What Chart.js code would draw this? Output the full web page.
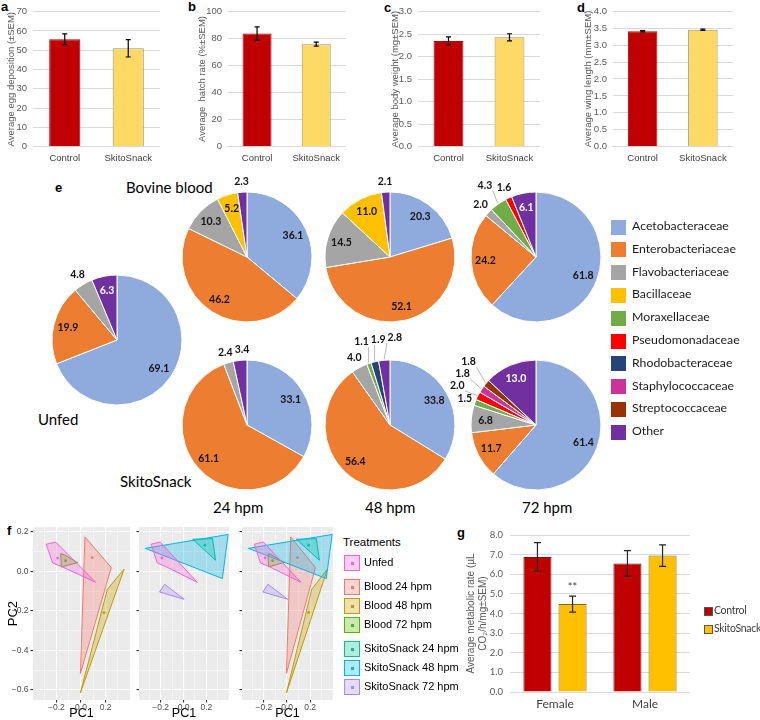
<!DOCTYPE html>
<html>
<head>
<meta charset="utf-8">
<script src="https://cdn.jsdelivr.net/npm/chart.js@4.4.1/dist/chart.umd.min.js"></script>
<style>
  body { margin: 0; width: 760px; height: 720px; position: relative; overflow: hidden; background: #fff; font-family: "Liberation Sans", Arial, sans-serif; }
  canvas { position: absolute; }
  .t { position: absolute; white-space: nowrap; line-height: 1; color: #000; }
  .p { font-weight: bold; font-size: 13px; }
  .cal { font-family: Lato, "Open Sans", sans-serif; }
</style>
</head>
<body>
<div class="t p" style="left:1px;top:0px">a</div>
<div class="t p" style="left:188px;top:0px">b</div>
<div class="t p" style="left:384px;top:1px">c</div>
<div class="t p" style="left:577px;top:1px">d</div>
<div class="t p" style="left:55px;top:181px">e</div>
<div class="t p" style="left:7px;top:524px">f</div>
<div class="t p" style="left:457px;top:526px">g</div>

<div class="t cal" style="left:126px;top:180px;font-size:15px">Bovine blood</div>
<div class="t cal" style="left:38px;top:412px;font-size:15px">Unfed</div>
<div class="t cal" style="left:120px;top:474px;font-size:15px">SkitoSnack</div>
<div class="t cal" style="left:213px;top:500px;font-size:15px">24 hpm</div>
<div class="t cal" style="left:365px;top:500px;font-size:15px">48 hpm</div>
<div class="t cal" style="left:522px;top:500px;font-size:15px">72 hpm</div>

<div class="t" style="left:40px;top:681px;font-size:11px">Blood</div>
<div class="t" style="left:143px;top:681px;font-size:11px">SkitoSnack</div>
<div class="t" style="left:246px;top:681px;font-size:11px">Merge</div>
<div class="t" style="left:343px;top:537px;font-size:11.5px">Treatments</div>

<script>
// ----- a-d: adult fitness bars -----
const groups = ["Control", "SkitoSnack"];
const eggMean = [55.7, 51.0];
const eggSem = [2.8, 4.5];
const hatchMean = [83.5, 75.7];
const hatchSem = [5.0, 1.5];
const weightMean = [2.35, 2.43];
const weightSem = [0.09, 0.08];
const wingMean = [3.41, 3.45];
const wingSem = [0.02, 0.02];

// ----- e: family composition (%) -----
const families = ["Acetobacteraceae", "Enterobacteriaceae", "Flavobacteriaceae", "Bacillaceae", "Moraxellaceae",
  "Pseudomonadaceae", "Rhodobacteraceae", "Staphylococcaceae", "Streptococcaceae", "Other"];
const familyColors = ["#8FAADC", "#ED7D31", "#A5A5A5", "#FFC000", "#70AD47", "#FF0000", "#264478", "#CC3399", "#993300", "#7030A0"];
const pieUnfed   = [69.1, 19.9, 4.8, 0, 0, 0, 0, 0, 0, 6.3];
const pieBlood24 = [36.1, 46.2, 10.3, 5.2, 0, 0, 0, 0, 0, 2.3];
const pieBlood48 = [20.3, 52.1, 14.5, 11.0, 0, 0, 0, 0, 0, 2.1];
const pieBlood72 = [61.8, 24.2, 2.0, 0, 4.3, 1.6, 0, 0, 0, 6.1];
const pieSkito24 = [33.1, 61.1, 2.4, 0, 0, 0, 0, 0, 0, 3.4];
const pieSkito48 = [33.8, 56.4, 4.0, 0, 1.1, 0, 1.9, 0, 0, 2.8];
const pieSkito72 = [61.4, 11.7, 6.8, 0, 1.5, 2.0, 0, 1.8, 1.8, 13.0];

// ----- f: PCA hulls (PC1, PC2) -----
const treatments = ["Unfed", "Blood 24 hpm", "Blood 48 hpm", "Blood 72 hpm", "SkitoSnack 24 hpm", "SkitoSnack 48 hpm", "SkitoSnack 72 hpm"];
const treatmentColors = ["#FB61D7", "#F8766D", "#C49A00", "#53B400", "#00C094", "#00B6EB", "#A58AFF"];
const hullUnfed   = [[-0.283, 0.138], [-0.205, 0.149], [0.120, -0.055], [-0.150, 0.023], [-0.230, 0.043]];
const hullBlood24 = [[0.032, 0.175], [0.246, 0.020], [-0.005, -0.517]];
const hullBlood48 = [[0.350, 0.012], [0.214, -0.090], [-0.005, -0.615]];
const hullBlood72 = [[-0.165, 0.090], [-0.133, 0.084], [-0.027, 0.045], [-0.160, 0.023]];
const hullSkito24 = [[0.080, 0.163], [0.254, 0.166], [0.280, 0.057]];
const hullSkito48 = [[-0.335, 0.117], [0.390, 0.187], [0.340, -0.036]];
const hullSkito72 = [[-0.210, -0.104], [-0.165, -0.065], [0.005, -0.141]];
const centroidX = [-0.190, 0.091, 0.187, -0.125, 0.187, null, null];
const centroidY = [0.068, 0.070, -0.208, 0.055, 0.133, null, null];

// ----- g: metabolic rate -----
const sexes = ["Female", "Male"];
const metabControl = [6.88, 6.55];
const metabControlSem = [0.73, 0.65];
const metabSkito = [4.48, 6.95];
const metabSkitoSem = [0.41, 0.55];
const metabSkitoSig = ["**", ""];

Chart.defaults.font.family = '"Liberation Sans", Arial, sans-serif';
Chart.defaults.animation = false;
Chart.defaults.events = [];
Chart.defaults.plugins.legend.display = false;
Chart.defaults.plugins.tooltip.enabled = false;

function makeCanvas(left, top, w, h) {
  const c = document.createElement("canvas");
  c.width = w; c.height = h;
  c.style.left = left + "px"; c.style.top = top + "px";
  c.style.width = w + "px"; c.style.height = h + "px";
  document.body.appendChild(c);
  return c;
}

// error bars + significance marks, drawn through the y scale
const errorBars = {
  id: "errorBars",
  afterDatasetsDraw(chart, args, opts) {
    const ctx = chart.ctx, y = chart.scales.y;
    chart.data.datasets.forEach((ds, i) => {
      if (!ds.errors) return;
      chart.getDatasetMeta(i).data.forEach((bar, j) => {
        const v = ds.data[j], e = ds.errors[j];
        const top = y.getPixelForValue(v + e), bot = y.getPixelForValue(v - e);
        const cap = opts.cap || 3;
        ctx.save();
        ctx.strokeStyle = opts.color || "#000";
        ctx.lineWidth = 1.2;
        ctx.beginPath();
        ctx.moveTo(bar.x, top); ctx.lineTo(bar.x, bot);
        ctx.moveTo(bar.x - cap, top); ctx.lineTo(bar.x + cap, top);
        ctx.moveTo(bar.x - cap, bot); ctx.lineTo(bar.x + cap, bot);
        ctx.stroke();
        if (ds.marks && ds.marks[j]) {
          ctx.fillStyle = "#404040";
          ctx.font = "11px Lato";
          ctx.textAlign = "center";
          ctx.textBaseline = "middle";
          ctx.fillText(ds.marks[j], bar.x, top - 9);
        }
        ctx.restore();
      });
    });
  }
};

// ----- a-d -----
function barPanel(left, width, axisW, titlePad, tickPad, title, means, sems, max, step, dec) {
  new Chart(makeCanvas(left, 0, width, 168), {
    type: "bar",
    data: {
      labels: groups,
      datasets: [{
        data: means, errors: sems,
        backgroundColor: ["#C00000", "#FFD966"],
        borderColor: ["#B00000", "#A39361"],
        borderWidth: 1,
        barPercentage: 0.49, categoryPercentage: 1
      }]
    },
    options: {
      responsive: false,
      layout: { padding: { top: 6, right: 0, bottom: 0, left: 0 } },
      plugins: { errorBars: { cap: 2.5 } },
      scales: {
        x: {
          grid: { display: false, drawTicks: false },
          border: { color: "#d9d9d9" },
          ticks: { color: "#404040", font: { size: 9.5 }, padding: 6 },
          afterFit: s => { s.height = 21.3; }
        },
        y: {
          min: 0, max: max,
          ticks: { stepSize: step, callback: v => v.toFixed(dec), color: "#595959", font: { size: 9.5 }, padding: tickPad },
          grid: { color: "#d9d9d9", drawTicks: false },
          border: { display: false },
          title: { display: true, text: title, color: "#595959", font: { size: 9.5 }, padding: { top: titlePad, bottom: 0 } },
          afterFit: s => { s.width = axisW; }
        }
      }
    },
    plugins: [errorBars]
  });
}

barPanel(0, 160, 33, 5.3, 6, "Average egg deposition (\u00B1SEM)", eggMean, eggSem, 70, 10, 0);
barPanel(190, 156, 37.5, 6.3, 5.5, "Average  hatch rate (%\u00B1SEM)", hatchMean, hatchSem, 100, 10, 0);
barPanel(383, 157, 35, 6.3, 6, "Average body weight (mg\u00B1SEM)", weightMean, weightSem, 3, 0.5, 1);
barPanel(576, 157, 36.5, 6.3, 5.5, "Average wing length (mm\u00B1SEM)", wingMean, wingSem, 4, 0.5, 1);

// ----- e: pies -----
const pieLabels = {
  id: "pieLabels",
  afterDatasetsDraw(chart) {
    const ctx = chart.ctx;
    const values = chart.data.datasets[0].data;
    const placed = [];
    ctx.save();
    ctx.font = "bold 10.5px Lato";
    ctx.textAlign = "center";
    ctx.textBaseline = "middle";
    chart.getDatasetMeta(0).data.forEach((arc, i) => {
      const v = values[i];
      if (!v) return;
      const { x, y, startAngle, endAngle, outerRadius: r } =
        arc.getProps(["x", "y", "startAngle", "endAngle", "outerRadius"], true);
      const a = (startAngle + endAngle) / 2;
      const cos = Math.cos(a), sin = Math.sin(a);
      const txt = v.toFixed(1);
      if (v >= 5) {
        ctx.fillStyle = i === families.length - 1 ? "#fff" : "#141414";
        ctx.fillText(txt, x + cos * r * 0.78, y + sin * r * 0.78);
        return;
      }
      const w = ctx.measureText(txt).width + 1, h = 11;
      const clash = p => placed.find(q => Math.abs(q.x - p.x) < (w + q.w) / 2 && Math.abs(q.y - p.y) < h);
      const ideal = { x: x + cos * (r + 11), y: y + sin * (r + 11), w };
      let p = ideal;
      let q = clash(p);
      if (q) {
        const need = (w + q.w) / 2 + 1 - Math.abs(q.x - p.x);
        if (sin < -0.9 && need < 4.5) p = { ...p, x: p.x + need };
        else p = { x: x + cos * (r + 23), y: y + sin * (r + 23), w };
      }
      let n = 0;
      while ((q = clash(p)) && n++ < 8) {
        if (cos < -0.7) p = { ...p, y: q.y - h - 1 };
        else if (cos > 0.7) p = { ...p, y: q.y + h + 1 };
        else if (sin < 0) p = { ...p, x: q.x + (w + q.w) / 2 + 1 };
        else p = { ...p, x: q.x - (w + q.w) / 2 - 1 };
      }
      placed.push(p);
      if (Math.hypot(p.x - ideal.x, p.y - ideal.y) > 6) {
        const ex = x + cos * (r + 1), ey = y + sin * (r + 1);
        const tx = Math.min(Math.max(ex, p.x - w / 2), p.x + w / 2);
        const ty = Math.min(Math.max(ey, p.y - h / 2), p.y + h / 2);
        ctx.strokeStyle = "#a6a6a6";
        ctx.lineWidth = 0.8;
        ctx.beginPath(); ctx.moveTo(ex, ey); ctx.lineTo(tx, ty); ctx.stroke();
      }
      ctx.fillStyle = "#141414";
      ctx.fillText(txt, p.x, p.y);
    });
    ctx.restore();
  }
};

function pie(cx, cy, values) {
  new Chart(makeCanvas(cx - 100, cy - 100, 200, 200), {
    type: "pie",
    data: {
      labels: families,
      datasets: [{ data: values, backgroundColor: familyColors, borderColor: "#fff", borderWidth: 1, radius: 65 }]
    },
    options: { responsive: false, layout: { padding: 0 } },
    plugins: [pieLabels]
  });
}

pie(117, 340, pieUnfed);
pie(247, 257, pieBlood24);
pie(390, 257, pieBlood48);
pie(536, 257, pieBlood72);
pie(247, 425, pieSkito24);
pie(390, 425, pieSkito48);
pie(536, 425, pieSkito72);

families.forEach((name, i) => {
  const yc = 227 + i * 22.8;
  const sw = document.createElement("div");
  sw.style.cssText = `position:absolute;left:611px;top:${yc - 7.5}px;width:15px;height:15px;background:${familyColors[i]}`;
  document.body.appendChild(sw);
  const tx = document.createElement("div");
  tx.className = "t cal";
  tx.style.cssText += `left:632px;top:${yc - 7}px;font-size:12.3px;color:#1a1a1a`;
  tx.textContent = name;
  document.body.appendChild(tx);
});

// ----- f: PCA panels -----
const hulls = [hullUnfed, hullBlood24, hullBlood48, hullBlood72, hullSkito24, hullSkito48, hullSkito72];

function rgba(hex, a) {
  const n = parseInt(hex.slice(1), 16);
  return `rgba(${n >> 16},${(n >> 8) & 255},${n & 255},${a})`;
}

const ggBackground = {
  id: "ggBackground",
  beforeDraw(chart) {
    const { ctx, chartArea: c } = chart;
    ctx.save();
    ctx.fillStyle = "#EBEBEB";
    ctx.fillRect(c.left, c.top, c.right - c.left, c.bottom - c.top);
    ctx.restore();
  }
};

const isMajor = v => Math.round(v * 10) % 2 === 0;
const ggLabel = v => isMajor(v) ? v.toFixed(1).replace("-", "\u2212") : "";

function pcaPanel(left, width, axisW, which) {
  const datasets = [];
  which.slice().reverse().forEach(k => {
    datasets.push({
      type: "line",
      data: hulls[k].concat([hulls[k][0]]).map(p => ({ x: p[0], y: p[1] })),
      borderColor: treatmentColors[k],
      backgroundColor: rgba(treatmentColors[k], 0.3),
      borderWidth: 1, fill: "shape", pointRadius: 0, tension: 0
    });
    if (centroidX[k] !== null) {
      datasets.push({
        type: "scatter",
        data: [{ x: centroidX[k], y: centroidY[k] }],
        pointRadius: 1.4, pointBorderWidth: 0, pointBackgroundColor: treatmentColors[k]
      });
    }
  });
  const showY = axisW > 0;
  new Chart(makeCanvas(left, 520, width, 200), {
    type: "line",
    data: { datasets },
    options: {
      responsive: false,
      layout: { padding: { top: 7, right: 1, bottom: 0, left: 0 } },
      scales: {
        x: {
          type: "linear", min: -0.39, max: 0.398,
          ticks: { stepSize: 0.1, includeBounds: false, callback: ggLabel, autoSkip: false, maxRotation: 0, color: "#4D4D4D", font: { size: 8.5 }, padding: 0 },
          grid: { color: "#fff", lineWidth: c => isMajor(c.tick.value) ? 1.1 : 0.5, tickLength: 2.5, tickColor: c => isMajor(c.tick.value) ? "#333" : "rgba(0,0,0,0)" },
          border: { display: false },
          title: { display: true, text: "PC1", color: "#000", font: { size: 12.5, lineHeight: 1 }, padding: { top: 0, bottom: 0 } },
          afterFit: s => { s.height = 20; }
        },
        y: {
          min: -0.651, max: 0.225,
          ticks: { display: showY, stepSize: 0.1, includeBounds: false, callback: ggLabel, autoSkip: false, color: "#4D4D4D", font: { size: 8.5 }, padding: 2 },
          grid: { color: "#fff", lineWidth: c => isMajor(c.tick.value) ? 1.1 : 0.5, tickLength: 2.5, tickColor: c => isMajor(c.tick.value) ? "#333" : "rgba(0,0,0,0)" },
          border: { display: false },
          title: { display: showY, text: "PC2", color: "#000", font: { size: 13, lineHeight: 1 }, padding: { top: 6.5, bottom: 0 } },
          afterFit: s => { s.width = axisW; }
        }
      }
    },
    plugins: [ggBackground]
  });
}

pcaPanel(0, 134, 33, [1, 2, 3, 0]);
pcaPanel(135, 98, 0, [4, 5, 6, 0]);
pcaPanel(238, 99, 0, [1, 2, 3, 4, 5, 6, 0]);

treatments.forEach((name, i) => {
  const yc = 563 + i * 19 + (i >= 1 ? 5 : 0) + (i >= 4 ? 5 : 0);
  const key = document.createElement("div");
  key.style.cssText = `position:absolute;left:344px;top:${yc - 8}px;width:14px;height:14px;border:1px solid ${treatmentColors[i]};background:${rgba(treatmentColors[i], 0.3)}`;
  const dot = document.createElement("div");
  dot.style.cssText = `position:absolute;left:5.5px;top:5.5px;width:3px;height:3px;background:${treatmentColors[i]}`;
  key.appendChild(dot);
  document.body.appendChild(key);
  const tx = document.createElement("div");
  tx.className = "t";
  tx.style.cssText += `left:364px;top:${yc - 6}px;font-size:11px`;
  tx.textContent = name;
  document.body.appendChild(tx);
});

// ----- g: metabolic rate -----
new Chart(makeCanvas(460, 520, 230, 200), {
  type: "bar",
  data: {
    labels: sexes,
    datasets: [
      { label: "Control", data: metabControl, errors: metabControlSem, backgroundColor: "#C00000", borderColor: "#7a1010", borderWidth: 1, barPercentage: 0.8, categoryPercentage: 0.78 },
      { label: "SkitoSnack", data: metabSkito, errors: metabSkitoSem, marks: metabSkitoSig, backgroundColor: "#FFC000", borderColor: "#7f6a20", borderWidth: 1, barPercentage: 0.8, categoryPercentage: 0.78 }
    ]
  },
  options: {
    responsive: false,
    layout: { padding: { top: 15, right: 0, bottom: 0, left: 0 } },
    plugins: { errorBars: { cap: 3.5, color: "#262626" } },
    scales: {
      x: {
        grid: { display: false, drawTicks: false },
        border: { color: "#d9d9d9" },
        ticks: { color: "#404040", font: { size: 12, family: "Lato" }, padding: 5 },
        afterFit: s => { s.height = 28; }
      },
      y: {
        min: 0, max: 8,
        ticks: { stepSize: 1, callback: v => v.toFixed(1), color: "#595959", font: { size: 9.5, family: "Lato" }, padding: 7 },
        grid: { color: "#d9d9d9", drawTicks: false },
        border: { display: false },
        title: { display: true, text: ["Average metabolic rate (\u00B5L", "CO\u2082/h/mg\u00B1SEM)"], color: "#595959", font: { size: 10 }, padding: { top: 5, bottom: 0 } },
        afterFit: s => { s.width = 50; }
      }
    }
  },
  plugins: [errorBars]
});

["Control", "SkitoSnack"].forEach((name, i) => {
  const yc = 611 + i * 18;
  const sw = document.createElement("div");
  sw.style.cssText = `position:absolute;left:704px;top:${yc - 4}px;width:7px;height:7px;border:1px solid #555;background:${i ? "#FFC000" : "#C00000"}`;
  document.body.appendChild(sw);
  const tx = document.createElement("div");
  tx.className = "t cal";
  tx.style.cssText += `left:714px;top:${yc - 6}px;font-size:10.5px;letter-spacing:-0.3px;color:#404040`;
  tx.textContent = name;
  document.body.appendChild(tx);
});
</script>
</body>
</html>
